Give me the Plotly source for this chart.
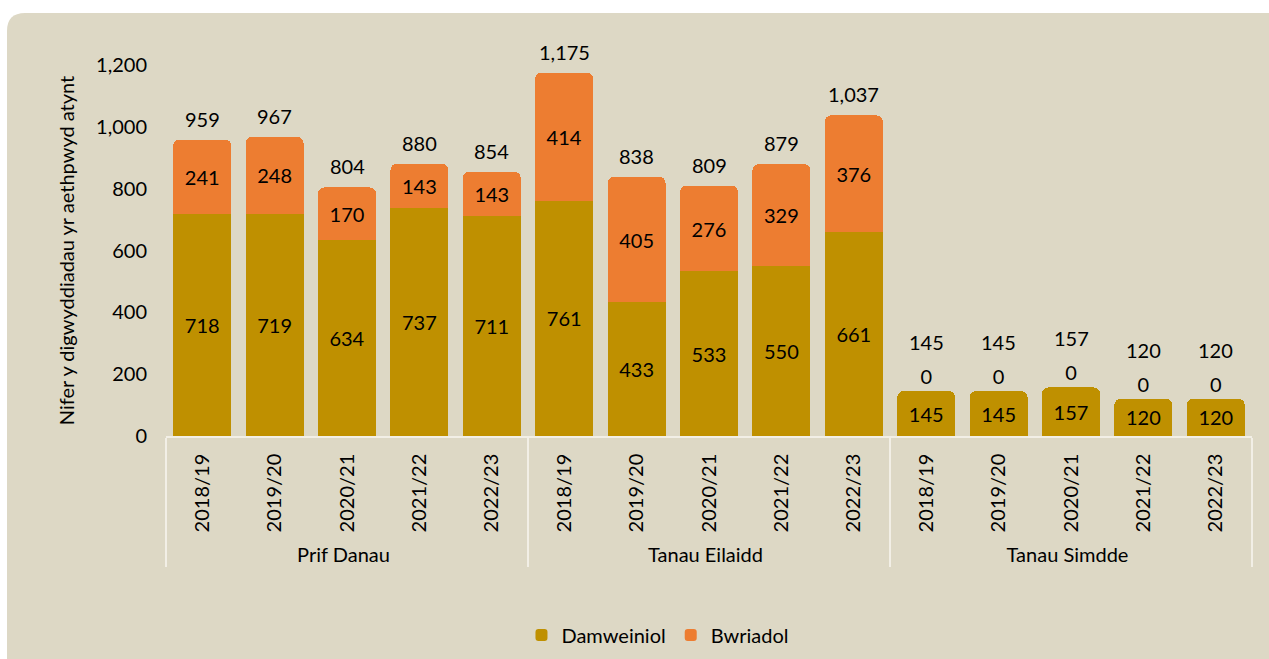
import plotly.graph_objects as go

groups = ["Prif Danau"] * 5 + ["Tanau Eilaidd"] * 5 + ["Tanau Simdde"] * 5
years = ["2018/19", "2019/20", "2020/21", "2021/22", "2022/23"] * 3
damweiniol = [718, 719, 634, 737, 711, 761, 433, 533, 550, 661, 145, 145, 157, 120, 120]
bwriadol = [241, 248, 170, 143, 143, 414, 405, 276, 329, 376, 0, 0, 0, 0, 0]
totals = [959, 967, 804, 880, 854, 1175, 838, 809, 879, 1037, 145, 145, 157, 120, 120]

GOLD = "#BF9000"
ORANGE = "#ED7D31"
BEIGE = "#DDD8C5"
FONT = "Lato"
FS = 20

fig = go.Figure()
fig.add_trace(go.Bar(
    x=[groups, years], y=damweiniol, name="Damweiniol",
    marker=dict(color=GOLD, line=dict(width=0)),
    text=[str(v) for v in damweiniol], textposition="inside", textangle=0,
    insidetextanchor="middle", constraintext="none",
    textfont=dict(color="black", size=FS, family=FONT),
))
fig.add_trace(go.Bar(
    x=[groups, years], y=bwriadol, name="Bwriadol",
    marker=dict(color=ORANGE, line=dict(width=0)),
    text=[str(v) for v in bwriadol], textangle=0,
    textposition=["outside" if v == 0 else "inside" for v in bwriadol],
    insidetextanchor="middle", constraintext="none", cliponaxis=False,
    textfont=dict(color="black", size=FS, family=FONT),
))

annotations = []
for i, (t, b) in enumerate(zip(totals, bwriadol)):
    annotations.append(dict(
        x=i, y=t, xref="x", yref="y", text=f"{t:,}", showarrow=False,
        yshift=49 if b == 0 else 21, yanchor="middle",
        font=dict(size=FS, color="black", family=FONT),
    ))

W, H = 1269, 659
ml, mr, mt, mb = 166, 17, 65, 223
pw, ph = W - ml - mr, H - mt - mb
def px(x):
    return (x - ml) / pw
def py(y):
    return (H - mb - y) / ph

x0, y0, x1, y1 = px(7), py(13), px(1290), py(680)
rx, ry = 18 / pw, 18 / ph
path = (f"M {x0},{y1} L {x0},{y0 - ry} Q {x0},{y0} {x0 + rx},{y0} "
        f"L {x1},{y0} L {x1},{y1} Z")

fig.update_layout(
    template="none",
    width=W, height=H, autosize=False,
    margin=dict(l=ml, r=mr, t=mt, b=mb, pad=0),
    barmode="stack", bargap=0.2, barcornerradius=6,
    paper_bgcolor="white", plot_bgcolor="rgba(0,0,0,0)",
    font=dict(family=FONT, size=FS, color="black"),
    shapes=[dict(type="path", path=path, xref="paper", yref="paper",
                 fillcolor=BEIGE, line=dict(width=0), layer="below")],
    annotations=annotations,
    showlegend=True,
    legend=dict(orientation="h", xref="container", x=0.5185, xanchor="center",
                yref="container", y=1 - 635 / H, yanchor="middle",
                font=dict(size=FS, family=FONT), bgcolor="rgba(0,0,0,0)",
                itemwidth=30, traceorder="normal"),
    yaxis=dict(range=[0, 1200], dtick=200, tickformat=",", showgrid=False,
               automargin=False,
               zeroline=False, showline=False, ticks="", ticklabelstandoff=18,
               tickfont=dict(size=FS, family=FONT),
               title=dict(text="Nifer y digwyddiadau yr aethpwyd atynt",
                          font=dict(size=FS, family=FONT), standoff=16)),
    xaxis=dict(type="multicategory", tickangle=-90, showgrid=False,
               automargin=False,
               showline=True, linecolor="#F2EFE6", linewidth=1.5,
               showdividers=True, dividercolor="#F2EFE6", dividerwidth=1.5,
               ticks="", ticklabelstandoff=8,
               tickfont=dict(size=FS, family=FONT)),
)

fig.write_html("out.html", config={"displayModeBar": False},
               post_script="document.body.style.margin='0';")
